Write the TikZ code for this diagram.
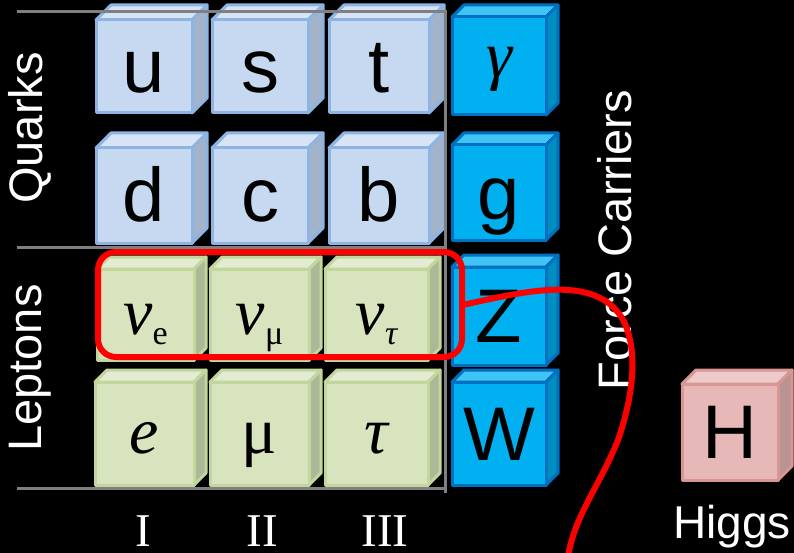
\documentclass[tikz,border=0pt]{standalone}
\usepackage{fontspec}
\setmainfont{Liberation Sans}
\newfontfamily\serif{Liberation Serif}
\definecolor{qF}{HTML}{C6D9F1}\definecolor{qT}{HTML}{D7E4F5}\definecolor{qS}{HTML}{A3B3C9}\definecolor{qB}{HTML}{8DB4E2}
\definecolor{lF}{HTML}{D7E4BD}\definecolor{lT}{HTML}{E3ECD2}\definecolor{lS}{HTML}{ADB898}\definecolor{lB}{HTML}{C3D69B}
\definecolor{fF}{HTML}{00B0F0}\definecolor{fT}{HTML}{40C4F4}\definecolor{fS}{HTML}{008DC0}\definecolor{fB}{HTML}{0070C0}
\definecolor{hF}{HTML}{E6B9B8}\definecolor{hT}{HTML}{EDCBCA}\definecolor{hS}{HTML}{B89493}\definecolor{hB}{HTML}{D99694}
\definecolor{grid}{HTML}{808080}
\tikzset{
  cubeline/.style={line width=3pt,line join=round},
  sanslabel/.style={text=black,inner sep=0pt,font=\fontsize{76}{76}\selectfont,text height=68pt,text depth=15pt},
  seriflabel/.style={text=black,inner sep=0pt,font=\serif\fontsize{66}{66}\selectfont,text height=50pt,text depth=10pt},
  sidelabel/.style={text=white,inner sep=0pt,font=\fontsize{47}{47}\selectfont,rotate=90},
  genlabel/.style={text=white,inner sep=0pt,font=\serif\fontsize{47}{47}\selectfont},
  gridline/.style={grid,line width=3pt},
  redline/.style={red,line width=6pt,line cap=round}
}
% #1 name, #2 L, #3 T, #4 R, #5 B, #6 depth, #7 colour prefix, #8 label style, #9 text
\newcommand\cubeshape[9]{%
  \filldraw[fill=#7T,draw=#7B,cubeline] (#2,#3+#6) -- (#2+#6,#3) -- (#4,#3) -- (#4-#6,#3+#6) -- cycle;
  \filldraw[fill=#7S,draw=#7B,cubeline] (#4-#6,#3+#6) -- (#4,#3) -- (#4,#5-#6) -- (#4-#6,#5) -- cycle;
  \filldraw[fill=#7F,draw=#7B,cubeline] (#2,#3+#6) rectangle (#4-#6,#5);
  \node[#8] (#1) at ({(#2+#4-#6)/2},{(#3+#6+#5)/2}) {#9};
}
\begin{document}
\begin{tikzpicture}[x=1pt,y=-1pt]
\fill[black] (0,0) rectangle (794,553);
\useasboundingbox (0,0) rectangle (794,553);
% quarks
\cubeshape{u}{96}{5}{207}{113}{15}{q}{sanslabel}{u}
\cubeshape{s}{212}{5}{323}{113}{15}{q}{sanslabel}{s}
\cubeshape{t}{329}{5}{444}{113}{15}{q}{sanslabel}{t}
\cubeshape{d}{96}{133}{207}{243}{15}{q}{sanslabel}{d}
\cubeshape{c}{212}{133}{323}{243}{15}{q}{sanslabel}{c}
\cubeshape{b}{329}{133}{444}{243}{15}{q}{sanslabel}{b}
% leptons
\cubeshape{ne}{97}{257}{206}{360}{12}{l}{seriflabel}{\itshape ν\upshape\fontsize{34}{34}\selectfont\raisebox{-10pt}{e}}
\cubeshape{nm}{210}{257}{321}{360}{12}{l}{seriflabel}{\itshape ν\upshape\fontsize{34}{34}\selectfont\raisebox{-10pt}{μ}}
\cubeshape{nt}{325}{257}{440}{360}{12}{l}{seriflabel}{\itshape ν\fontsize{34}{34}\selectfont\raisebox{-10pt}{τ}}
\cubeshape{e}{95}{370}{206}{485}{12}{l}{seriflabel}{\itshape e}
\cubeshape{mu}{210}{370}{321}{485}{12}{l}{seriflabel}{μ}
\cubeshape{tau}{325}{370}{440}{485}{12}{l}{seriflabel}{\itshape τ}
% force carriers
\cubeshape{gam}{452}{5}{558}{115}{12}{f}{seriflabel}{\itshape\raisebox{8pt}{γ}}
\cubeshape{g}{452}{133}{558}{240}{12}{f}{sanslabel}{g}
\cubeshape{Z}{452}{255}{558}{365}{12}{f}{sanslabel}{Z}
\cubeshape{W}{452}{370}{558}{485}{12}{f}{sanslabel}{W}
% higgs
\cubeshape{H}{682}{370}{792}{480}{14}{h}{sanslabel}{H}
% grid lines
\coordinate (g1) at (17,12);
\coordinate (g2) at (445,12);
\coordinate (g3) at (445,493);
\coordinate (m1) at (17,247);
\coordinate (m2) at (445,247);
\coordinate (b1) at (17,488);
\coordinate (b2) at (445,488);
\draw[gridline] (g1) -- (g2) -- (g3);
\draw[gridline] (m1) -- (m2);
\draw[gridline] (b1) -- (b2);
% labels
\node[sidelabel] (quarks) at (30,128) {Quarks};
\node[sidelabel] (leptons) at (30,368) {Leptons};
\node[sidelabel] (force) at (615,240) {Force Carriers};
\node[genlabel] (gI) at (143,531) {I};
\node[genlabel] (gII) at (262,531) {II};
\node[genlabel] (gIII) at (385,531) {III};
\node[text=white,inner sep=0pt,font=\fontsize{46}{46}\selectfont,anchor=base] (higgs) at (732,538) {Higgs};
% red highlight
\node[draw=red,line width=6pt,rounded corners=18pt,minimum width=364pt,minimum height=105pt,inner sep=0pt] (hl) at (280,304.5) {};
\coordinate (tail) at (568,556);
\draw[redline] (hl.east) .. controls (530,290) and (595,275) .. (622,318)
  .. controls (640,350) and (632,400) .. (618,440)
  .. controls (600,485) and (575,515) .. (tail);
\end{tikzpicture}
\end{document}
